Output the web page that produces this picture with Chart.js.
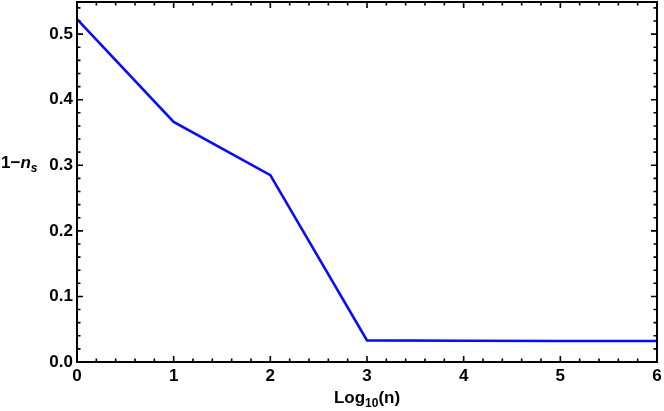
<!DOCTYPE html>
<html>
<head>
<meta charset="utf-8">
<script src="https://cdn.jsdelivr.net/npm/chart.js@4"></script>
<style>
  body { margin: 0; background: #fff; }
  #wrap { width: 664px; height: 411px; }
</style>
</head>
<body>
<div id="wrap"><canvas id="grafico"></canvas></div>
<script>
const logN = [0, 1, 2, 3, 4, 5, 6];
const unoMenosNs = [0.523, 0.366, 0.285, 0.033, 0.0325, 0.032, 0.032];
const ticksY = [0, 0.1, 0.2, 0.3, 0.4, 0.5];
const ticksX = [0, 1, 2, 3, 4, 5, 6];

const familia = '"Liberation Sans", Arial, sans-serif';

// marco con ticks hacia dentro, estilo Mathematica
const marco = {
  id: 'marco',
  afterDraw(chart) {
    const { ctx, chartArea: a, scales: { x, y } } = chart;
    ctx.save();
    ctx.strokeStyle = '#000';
    ctx.lineWidth = 2;
    ctx.strokeRect(a.left, a.top, a.right - a.left, a.bottom - a.top);
    ctx.lineWidth = 1.6;
    ctx.beginPath();
    for (let i = 0; i <= 30; i++) {
      const px = x.getPixelForValue(i * 0.2);
      const len = i % 5 === 0 ? 6 : 3.5;
      ctx.moveTo(px, a.bottom); ctx.lineTo(px, a.bottom - len);
      ctx.moveTo(px, a.top); ctx.lineTo(px, a.top + len);
    }
    for (let i = 0; i <= 27; i++) {
      const py = y.getPixelForValue(i * 0.02);
      if (py < a.top) continue;
      const len = i % 5 === 0 ? 6 : 3.5;
      ctx.moveTo(a.left, py); ctx.lineTo(a.left + len, py);
      ctx.moveTo(a.right, py); ctx.lineTo(a.right - len, py);
    }
    ctx.stroke();

    // titulos de ejes
    ctx.fillStyle = '#000';
    ctx.textBaseline = 'alphabetic';
    ctx.font = 'bold 17px ' + familia;
    let tx = 1, ty = 168;
    ctx.fillText('1\u2212', tx, ty);
    tx += ctx.measureText('1\u2212').width;
    ctx.font = 'bold italic 17px ' + familia;
    ctx.fillText('n', tx, ty);
    tx += ctx.measureText('n').width;
    ctx.font = 'bold italic 12px ' + familia;
    ctx.fillText('s', tx, ty + 4);

    ctx.font = 'bold 17px ' + familia;
    const w1 = ctx.measureText('Log').width;
    ctx.font = 'bold 12px ' + familia;
    const w2 = ctx.measureText('10').width;
    ctx.font = 'bold 17px ' + familia;
    const w3 = ctx.measureText('(n)').width;
    let sx = (a.left + a.right) / 2 - (w1 + w2 + w3) / 2;
    const sy = 403;
    ctx.fillText('Log', sx, sy);
    sx += w1;
    ctx.font = 'bold 12px ' + familia;
    ctx.fillText('10', sx, sy + 4);
    sx += w2;
    ctx.font = 'bold 17px ' + familia;
    ctx.fillText('(n)', sx, sy);
    ctx.restore();
  },
};

new Chart(document.getElementById('grafico').getContext('2d'), {
  type: 'line',
  data: {
    datasets: [
      {
        data: logN.map((v, i) => ({ x: v, y: unoMenosNs[i] })),
        borderColor: '#0a0aff',
        borderWidth: 2.6,
        pointRadius: 0,
        tension: 0,
        fill: false,
      },
    ],
  },
  options: {
    responsive: true,
    maintainAspectRatio: false,
    animation: false,
    layout: { padding: { top: 2, right: 7, left: 0, bottom: 0 } },
    plugins: { legend: { display: false }, tooltip: { enabled: false } },
    scales: {
      x: {
        type: 'linear',
        min: 0,
        max: 6,
        grid: { display: false, drawTicks: false },
        border: { display: false },
        afterBuildTicks: (s) => { s.ticks = ticksX.map((v) => ({ value: v })); },
        afterFit: (s) => { s.height = 49; s.paddingLeft = 0; s.paddingRight = 0; },
        ticks: { color: '#000', font: { family: familia, size: 17, weight: 'bold' }, padding: 4, maxRotation: 0 },
      },
      y: {
        min: 0,
        max: 0.549,
        grid: { display: false, drawTicks: false },
        border: { display: false },
        afterBuildTicks: (s) => { s.ticks = ticksY.map((v) => ({ value: v })); },
        afterFit: (s) => { s.width = 77; s.paddingTop = 0; s.paddingBottom = 0; },
        ticks: {
          color: '#000',
          font: { family: familia, size: 17, weight: 'bold' },
          padding: 4,
          callback: (v) => v.toFixed(1),
        },
      },
    },
  },
  plugins: [marco],
});
</script>
</body>
</html>
